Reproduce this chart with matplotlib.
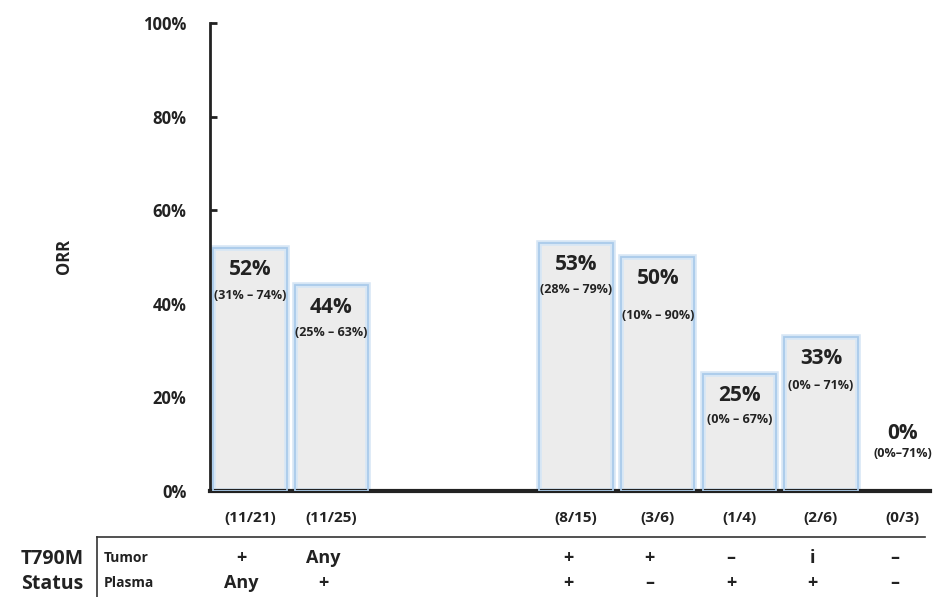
import numpy as np
import matplotlib
matplotlib.use('Agg')
import matplotlib.pyplot as plt

plt.rcParams['font.family'] = ['Open Sans', 'DejaVu Sans']
plt.rcParams['font.weight'] = 'bold'
plt.rcParams['axes.labelweight'] = 'bold'

# data
positions = [0, 1, 4, 5, 6, 7, 8]
orr = [52, 44, 53, 50, 25, 33, 0]
pct_labels = ['52%', '44%', '53%', '50%', '25%', '33%', '0%']
ci_labels = ['(31% \u2013 74%)', '(25% \u2013 63%)', '(28% \u2013 79%)', '(10% \u2013 90%)',
             '(0% \u2013 67%)', '(0% \u2013 71%)', '(0%\u201371%)']
counts = ['(11/21)', '(11/25)', '(8/15)', '(3/6)', '(1/4)', '(2/6)', '(0/3)']
tumor = ['+', 'Any', '+', '+', '\u2013', 'i', '\u2013']
plasma = ['Any', '+', '+', '\u2013', '+', '+', '\u2013']
ci_gap = [26, 25, 25, 37, 24, 27, 20]

fig = plt.figure(figsize=(9.33, 5.97), dpi=100)
ax = fig.add_axes([0.225, 0.1776, 0.772, 0.784])

vis_pos = [p for p, v in zip(positions, orr) if v > 0]
vis_orr = [v for v in orr if v > 0]
# glow-like edge: wide pale stroke then thinner
ax.bar(vis_pos, vis_orr, width=0.9, color='#ececec', edgecolor='#d6e6f5', linewidth=4, zorder=2)
ax.bar(vis_pos, vis_orr, width=0.9, color='none', edgecolor='#aacbea', linewidth=1.3, zorder=3)

for p, v, t, ci, g in zip(positions, orr, pct_labels, ci_labels, ci_gap):
    top = v if v > 0 else 17
    ax.annotate(t, (p, top), xytext=(0, -22), textcoords='offset pixels',
                ha='center', va='center', fontsize=15, color='#222222', zorder=4)
    ax.annotate(ci, (p, top), xytext=(0, -22 - g), textcoords='offset pixels',
                ha='center', va='center', fontsize=9, color='#222222', zorder=4)

ax.set_xlim(-0.49, 8.34)
ax.set_ylim(0, 100)
ax.set_yticks(np.arange(0, 101, 20))
ax.set_yticklabels([f'{t}%' for t in range(0, 101, 20)], fontsize=12, fontweight='bold')
ax.set_xticks([])
ax.tick_params(axis='y', direction='in', length=5, width=2, pad=17, colors='#222222')
ax.set_ylabel('ORR', fontsize=12, labelpad=50, color='#222222', fontweight='bold')
for s in ['top', 'right']:
    ax.spines[s].set_visible(False)
ax.spines['left'].set_linewidth(2)
ax.spines['left'].set_color('#222222')
ax.spines['bottom'].set_linewidth(3)
ax.spines['bottom'].set_color('#222222')

# count labels and status table
trans = ax.get_xaxis_transform()
for p, c, tu, pl in zip(positions, counts, tumor, plasma):
    ax.text(p, -27 / 468, c, transform=trans, ha='center', va='center', fontsize=11,
            color='#222222', clip_on=False)
    ax.text(p - 0.1, -67 / 468, tu, transform=trans, ha='center', va='center',
            fontsize=13, color='#222222', clip_on=False)
    ax.text(p - 0.1, -92 / 468, pl, transform=trans, ha='center', va='center',
            fontsize=13, color='#222222', clip_on=False)

fig.text(52 / 933, 1 - 559 / 597, 'T790M', ha='center', va='center', fontsize=14, color='#222222')
fig.text(52 / 933, 1 - 584 / 597, 'Status', ha='center', va='center', fontsize=14, color='#222222')
fig.text(104 / 933, 1 - 558 / 597, 'Tumor', ha='left', va='center', fontsize=10, color='#222222')
fig.text(104 / 933, 1 - 583 / 597, 'Plasma', ha='left', va='center', fontsize=10, color='#222222')

fig.add_artist(plt.Line2D([97 / 933, 97 / 933], [1 - 537 / 597, 0], transform=fig.transFigure,
                          color='#333333', linewidth=1.2))
fig.add_artist(plt.Line2D([97 / 933, 925 / 933], [1 - 537 / 597, 1 - 537 / 597],
                          transform=fig.transFigure, color='#333333', linewidth=1.2))

fig.savefig('out.png', dpi=100)
